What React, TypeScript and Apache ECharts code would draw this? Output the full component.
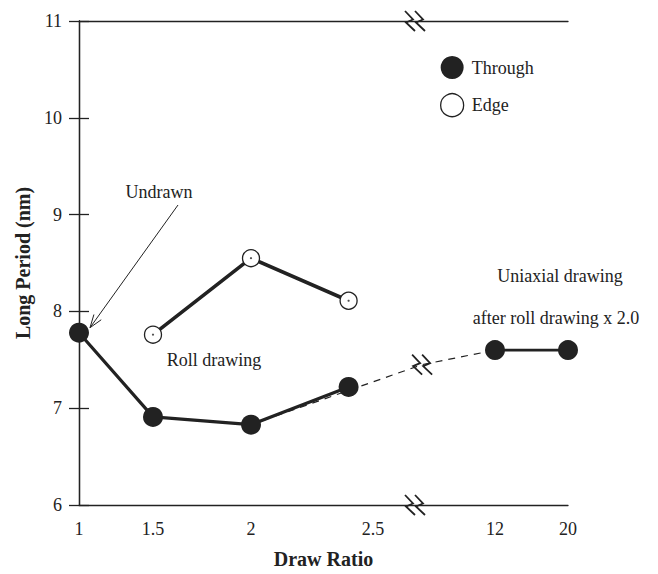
import React, { useEffect, useRef } from 'react';
import * as echarts from 'echarts';

// ---- data ----
const RATIO_TICKS = [1, 1.5, 2, 2.5, 12, 20];
const THROUGH_RATIO = [1, 1.5, 2, 2.4];
const THROUGH_PERIOD = [7.78, 6.91, 6.83, 7.22];
const UNIAXIAL_RATIO = [12, 20];
const UNIAXIAL_PERIOD = [7.6, 7.6];
const EDGE_RATIO = [1.5, 2, 2.4];
const EDGE_PERIOD = [7.76, 8.55, 8.11];
const LINK_RATIO = [2, 3.8, 12];
const LINK_PERIOD = [6.83, 7.45, 7.6];

// ---- broken-axis scale (draw ratio -> axis units) ----
const SCALE_RATIO = [1, 1.5, 2, 2.5, 3, 12, 20];
const SCALE_UNIT = [0, 74, 172, 294, 336, 416, 489];
const AXIS_BREAK_RATIO = 3;
const LINK_BREAK_INDEX = 1;

function xu(r: number): number {
  for (let i = 0; i < SCALE_RATIO.length - 1; i++) {
    const a = SCALE_RATIO[i], b = SCALE_RATIO[i + 1];
    if (r >= a && r <= b) {
      return SCALE_UNIT[i] + ((r - a) / (b - a)) * (SCALE_UNIT[i + 1] - SCALE_UNIT[i]);
    }
  }
  return r < SCALE_RATIO[0] ? SCALE_UNIT[0] : SCALE_UNIT[SCALE_UNIT.length - 1];
}

const FONT = "'Liberation Serif', 'Times New Roman', serif";
const INK = '#222';

export default function App() {
  const ref = useRef<HTMLDivElement>(null);
  useEffect(() => {
    if (!ref.current) return;
    const chart = echarts.init(ref.current, undefined, { renderer: 'svg' });
    const pts = (xs: number[], ys: number[]) => xs.map((x, i) => [xu(x), ys[i]]);
    const axisLine = { show: true, lineStyle: { color: INK, width: 1.3 } };
    chart.setOption({
      animation: false,
      backgroundColor: '#fff',
      grid: { left: 79, top: 21, width: 489, height: 490, containLabel: false },
      legend: {
        left: 435,
        top: 51,
        orient: 'vertical',
        itemWidth: 23,
        itemHeight: 23,
        itemGap: 14,
        icon: 'circle',
        textStyle: { fontSize: 18, fontFamily: FONT, color: INK, padding: [0, 0, 0, 3] },
        data: [
          { name: 'Through', itemStyle: { color: INK } },
          { name: 'Edge', itemStyle: { color: '#fff', borderColor: INK, borderWidth: 1.3 } },
        ],
      },
      xAxis: [
        {
          type: 'value',
          min: 0,
          max: 489,
          position: 'bottom',
          axisLine,
          axisTick: { show: false },
          splitLine: { show: false },
          axisLabel: {
            customValues: RATIO_TICKS.map(xu),
            formatter: (v: number) => {
              const r = RATIO_TICKS.find((t) => Math.abs(xu(t) - v) < 1e-6);
              return r === undefined ? '' : String(r);
            },
            margin: 15,
            fontSize: 18,
            fontFamily: FONT,
            color: INK,
          },
          name: 'Draw Ratio',
          nameLocation: 'middle',
          nameGap: 44,
          nameTextStyle: { fontWeight: 'bold', fontSize: 20, fontFamily: FONT, color: INK },
        },
        {
          type: 'value',
          min: 0,
          max: 489,
          position: 'top',
          axisLine,
          axisTick: { show: false },
          axisLabel: { show: false },
          splitLine: { show: false },
        },
      ],
      yAxis: [
        {
          type: 'value',
          min: 6,
          max: 11,
          interval: 1,
          position: 'left',
          axisLine,
          axisTick: { show: true, inside: true, length: 10, lineStyle: { color: INK, width: 1.3 } },
          splitLine: { show: false },
          axisLabel: { margin: 17, fontSize: 18, fontFamily: FONT, color: INK },
          name: 'Long Period (nm)',
          nameLocation: 'middle',
          nameGap: 45,
          nameRotate: 90,
          nameTextStyle: { fontWeight: 'bold', fontSize: 20, fontFamily: FONT, color: INK },
        },
        {
          type: 'value',
          min: 6,
          max: 11,
          interval: 1,
          position: 'right',
          axisLine,
          axisTick: { show: true, inside: true, length: 10, lineStyle: { color: INK, width: 1.3 } },
          splitLine: { show: false },
          axisLabel: { show: false },
        },
      ],
      series: [
        {
          name: 'link',
          type: 'line',
          data: pts(LINK_RATIO, LINK_PERIOD),
          symbol: 'none',
          lineStyle: { color: INK, width: 1.2, type: [7, 6] },
          silent: true,
          z: 1,
        },
        {
          name: 'Through',
          type: 'line',
          data: pts(THROUGH_RATIO, THROUGH_PERIOD),
          symbol: 'circle',
          symbolSize: 20,
          itemStyle: { color: INK },
          lineStyle: { color: INK, width: 3.2 },
          z: 3,
        },
        {
          name: 'Through',
          type: 'line',
          data: pts(UNIAXIAL_RATIO, UNIAXIAL_PERIOD),
          symbol: 'circle',
          symbolSize: 20,
          itemStyle: { color: INK },
          lineStyle: { color: INK, width: 2.6 },
          z: 3,
        },
        {
          name: 'Edge',
          type: 'line',
          data: pts(EDGE_RATIO, EDGE_PERIOD),
          symbol: 'circle',
          symbolSize: 17,
          itemStyle: { color: '#fff', borderColor: INK, borderWidth: 1.3 },
          lineStyle: { color: INK, width: 3.6 },
          z: 3,
        },
        {
          name: 'EdgeDot',
          type: 'scatter',
          data: pts(EDGE_RATIO, EDGE_PERIOD),
          symbol: 'circle',
          symbolSize: 2.2,
          itemStyle: { color: INK },
          silent: true,
          z: 4,
        },
      ],
    });

    const toPx = (r: number, v: number) =>
      chart.convertToPixel({ xAxisIndex: 0, yAxisIndex: 0 }, [xu(r), v]) as number[];

    const breakMark = (cx: number, cy: number) => ({
      type: 'group',
      x: cx,
      y: cy,
      z: 50,
      children: [
        { type: 'rect', shape: { x: -11, y: -2.5, width: 22, height: 5 }, style: { fill: '#fff' } },
        ...[-5, 5].map((o) => ({
          type: 'polyline',
          shape: { points: [[o - 5, -10], [o + 3, -1.5], [o - 4, 1.5], [o + 5, 10]] },
          style: { stroke: INK, lineWidth: 1.8, fill: 'none' },
        })),
      ],
    });

    const topPx = toPx(AXIS_BREAK_RATIO, 11);
    const botPx = toPx(AXIS_BREAK_RATIO, 6);
    const linkPx = toPx(LINK_RATIO[LINK_BREAK_INDEX], LINK_PERIOD[LINK_BREAK_INDEX]);

    // arrow for "Undrawn"
    const a0 = [178, 205];
    const tip = toPx(THROUGH_RATIO[0], THROUGH_PERIOD[0]);
    const a1 = [tip[0] + 11, tip[1] - 5];
    const dx = a1[0] - a0[0], dy = a1[1] - a0[1];
    const len = Math.hypot(dx, dy);
    const ux = dx / len, uy = dy / len;
    const hb = [a1[0] - ux * 13, a1[1] - uy * 13];
    const hw = 4.5;

    const txt = (s: string, x: number, y: number) => ({
      type: 'text',
      x,
      y,
      style: { text: s, fontSize: 18, fontFamily: FONT, fill: INK, textAlign: 'center', textVerticalAlign: 'middle' },
      z: 60,
    });

    chart.setOption({
      graphic: [
        breakMark(topPx[0], topPx[1]),
        breakMark(botPx[0], botPx[1]),
        breakMark(linkPx[0], linkPx[1]),
        txt('Undrawn', 159, 192),
        txt('Roll drawing', 214, 360),
        txt('Uniaxial drawing', 560, 276),
        txt('after roll drawing x 2.0', 556, 318),
        {
          type: 'line',
          shape: { x1: a0[0], y1: a0[1], x2: a1[0], y2: a1[1] },
          style: { stroke: INK, lineWidth: 1 },
          z: 60,
        },
        {
          type: 'polyline',
          shape: {
            points: [
              [hb[0] - uy * hw, hb[1] + ux * hw],
              [a1[0], a1[1]],
              [hb[0] + uy * hw, hb[1] - ux * hw],
            ],
          },
          style: { stroke: INK, lineWidth: 1, fill: 'none' },
          z: 60,
        },
      ],
    });

    return () => chart.dispose();
  }, []);
  return (
    <div
      ref={ref}
      style={{ position: 'absolute', left: 0, top: 0, width: 658, height: 574, background: '#fff' }}
    />
  );
}
